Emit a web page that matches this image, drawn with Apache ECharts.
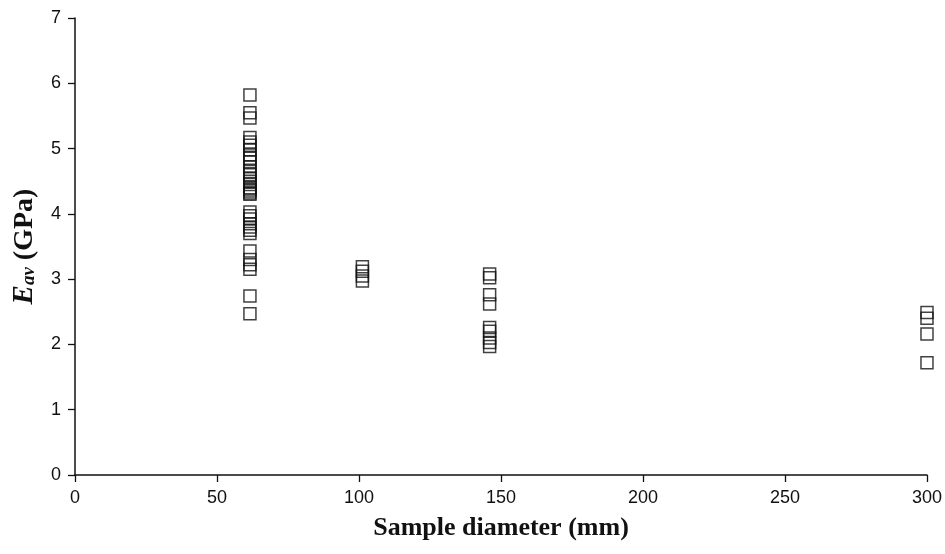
<!DOCTYPE html>
<html>
<head>
<meta charset="utf-8">
<script src="https://cdn.jsdelivr.net/npm/echarts@6/dist/echarts.min.js"></script>
<style>
  html, body { margin: 0; padding: 0; background: #fff; }
  #chart { width: 945px; height: 554px; }
</style>
</head>
<body>
<div id="chart"></div>
<script>
// Eav (GPa) readings per sample diameter (mm)
const d62 = [5.82, 5.55, 5.47, 5.17, 5.1, 5.05, 4.98, 4.9, 4.85, 4.8, 4.72, 4.65, 4.6, 4.55,
  4.5, 4.45, 4.4, 4.38, 4.35, 4.32, 4.3, 4.03, 3.97, 3.92, 3.85, 3.8, 3.75, 3.7,
  3.43, 3.3, 3.22, 3.15, 2.74, 2.47]
const d101 = [3.19, 3.12, 3.05, 2.97]
const d146 = [3.08, 3.02, 2.76, 2.62, 2.26, 2.2, 2.1, 2.03, 1.97]
const d300 = [2.49, 2.4, 2.16, 1.72]
const groups = [[61.6, d62], [101.2, d101], [146, d146], [300, d300]]

const xTicks = [0, 50, 100, 150, 200, 250, 300]
const yTicks = [0, 1, 2, 3, 4, 5, 6, 7]

const points = []
groups.forEach(([x, vals]) => vals.forEach(v => points.push([x, v])))

const chart = echarts.init(document.getElementById('chart'))

const axisBase = {
  axisLine: { show: true, onZero: false, lineStyle: { color: '#111', width: 1.5 } },
  splitLine: { show: false },
  axisTick: { show: true, length: 7, lineStyle: { color: '#111', width: 1.3 } },
  axisLabel: { color: '#111', fontSize: 18, fontFamily: 'Liberation Sans', margin: 14 }
}
const serif = 'Liberation Serif'

chart.setOption({
  backgroundColor: '#fff',
  animation: false,
  grid: { left: 75, right: 18, top: 18, bottom: 79 },
  xAxis: {
    ...axisBase,
    type: 'value',
    min: xTicks[0], max: xTicks[xTicks.length - 1], interval: 50,
    name: 'Sample diameter (mm)',
    nameLocation: 'middle',
    nameGap: 40,
    nameTextStyle: { color: '#111', fontSize: 26, fontWeight: 'bold', fontFamily: serif }
  },
  yAxis: {
    ...axisBase,
    type: 'value',
    min: yTicks[0], max: yTicks[yTicks.length - 1], interval: 1,
    name: '{e|E}{s|av}{t| (GPa)}',
    nameLocation: 'middle',
    nameGap: 36,
    nameTextStyle: {
      rich: {
        e: { fontSize: 29, fontWeight: 'bold', fontStyle: 'italic', fontFamily: serif, color: '#111' },
        s: { fontSize: 19, fontWeight: 'bold', fontStyle: 'italic', fontFamily: serif, color: '#111', verticalAlign: 'bottom', padding: [10, 0, 0, 0] },
        t: { fontSize: 28, fontWeight: 'bold', fontFamily: serif, color: '#111' }
      }
    }
  },
  series: [{
    type: 'scatter',
    data: points,
    symbol: 'rect',
    symbolSize: 12,
    itemStyle: { color: 'rgba(255,255,255,0)', borderColor: '#111', borderWidth: 1.5 }
  }]
})
</script>
</body>
</html>
